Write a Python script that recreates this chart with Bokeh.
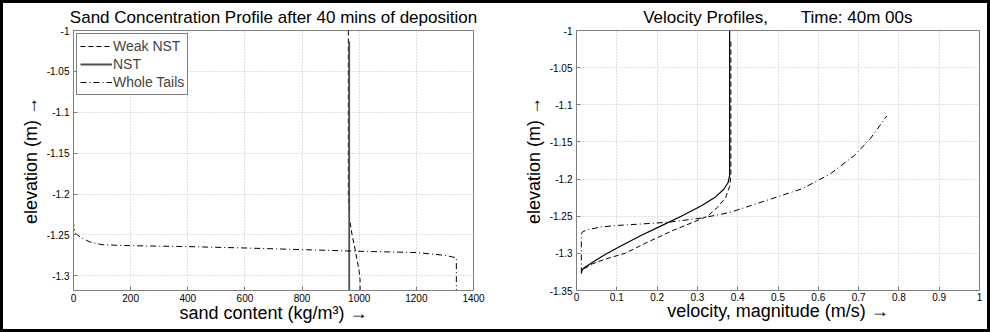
from bokeh.plotting import figure
from bokeh.layouts import row
from bokeh.models import FixedTicker, CustomJSTickFormatter, Range1d, Legend, LegendItem
from bokeh.embed import file_html
from bokeh.resources import INLINE

# ---------------- data: sand concentration profile ----------------
sand_weak_x = [962, 962, 966, 975, 987, 1000, 1003, 1003]
sand_weak_y = [-1.0, -1.2, -1.23, -1.25, -1.27, -1.295, -1.305, -1.318]
sand_nst_x = [965, 965]
sand_nst_y = [-1.013, -1.318]
sand_whole_x = [0, 0, 5, 30, 60, 100, 200, 400, 600, 800, 1000, 1200, 1300, 1340, 1340]
sand_whole_y = [-1.105, -1.235, -1.248, -1.254, -1.259, -1.262, -1.2632, -1.2643,
                -1.266, -1.268, -1.27, -1.2716, -1.275, -1.278, -1.318]
sand_xticks = [0, 200, 400, 600, 800, 1000, 1200, 1400]
sand_yticks = [-1.3, -1.25, -1.2, -1.15, -1.1, -1.05, -1.0]

# ---------------- data: velocity profiles ----------------
vel_nst_x = [0.38, 0.38, 0.376, 0.365, 0.345, 0.31, 0.26, 0.21, 0.16, 0.11, 0.07, 0.04, 0.02, 0.012]
vel_nst_y = [-1.0, -1.195, -1.205, -1.214, -1.224, -1.236, -1.25, -1.263, -1.276, -1.29,
             -1.302, -1.312, -1.319, -1.323]
vel_weak_x = [0.383, 0.383, 0.38, 0.37, 0.35, 0.325, 0.29, 0.24, 0.18, 0.12, 0.07, 0.04, 0.015, 0.012]
vel_weak_y = [-1.015, -1.195, -1.21, -1.225, -1.238, -1.25, -1.258, -1.269, -1.284, -1.3,
              -1.308, -1.314, -1.322, -1.327]
vel_whole_x = [0.012, 0.012, 0.016, 0.03, 0.06, 0.1, 0.16, 0.23, 0.31, 0.38, 0.47, 0.56,
               0.63, 0.69, 0.73, 0.77]
vel_whole_y = [-1.327, -1.2735, -1.2705, -1.268, -1.2645, -1.2625, -1.2605, -1.258, -1.2525,
               -1.245, -1.229, -1.213, -1.193, -1.168, -1.145, -1.115]
vel_xticks = [0, 0.1, 0.2, 0.3, 0.4, 0.5, 0.6, 0.7, 0.8, 0.9, 1.0]
vel_yticks = [-1.35, -1.3, -1.25, -1.2, -1.15, -1.1, -1.05, -1.0]

sand_title = "Sand Concentration Profile after 40 mins of deposition"
vel_title = "Velocity Profiles,\u00a0\u00a0\u00a0\u00a0\u00a0\u00a0 Time: 40m 00s"

FONT = "Liberation Sans"
AXC = "#808080"
FMT = "return String(+tick.toFixed(3));"


def make_fig(width, height, xr, yr, xt, yt, title, xlabel, bl, br, bt, bb,
             xstand, ystand, lstand):
    p = figure(width=width, height=height,
               x_range=Range1d(start=xr[0], end=xr[1]), y_range=Range1d(start=yr[0], end=yr[1]),
               output_backend="svg", toolbar_location=None,
               min_border_left=bl, min_border_right=br, min_border_top=bt, min_border_bottom=bb,
               title=title)
    p.background_fill_color = "white"
    p.border_fill_color = "white"
    p.outline_line_color = AXC
    p.title.text_font = FONT
    p.title.text_font_size = "17px"
    p.title.text_font_style = "normal"
    p.title.text_color = "black"
    p.title.align = "center"
    p.title.vertical_align = "top"
    p.title.standoff = 4
    p.xaxis.ticker = FixedTicker(ticks=xt)
    p.yaxis.ticker = FixedTicker(ticks=yt)
    for ax in (p.xaxis[0], p.yaxis[0]):
        ax.formatter = CustomJSTickFormatter(code=FMT)
        ax.axis_line_color = AXC
        ax.major_tick_line_color = AXC
        ax.major_tick_in = 4
        ax.major_tick_out = 0
        ax.minor_tick_in = 0
        ax.minor_tick_out = 0
        ax.major_label_text_font = FONT
        ax.major_label_text_font_size = "10px"
        ax.major_label_text_color = "black"
        ax.major_label_standoff = 4
        ax.axis_label_text_font = FONT
        ax.axis_label_text_font_size = "18px"
        ax.axis_label_text_font_style = "normal"
        ax.axis_label_text_color = "black"
    p.xaxis.axis_label = xlabel
    p.yaxis.axis_label = "elevation (m) \u2192"
    p.xaxis.axis_label_standoff = xstand
    p.xaxis.major_label_standoff = lstand
    p.yaxis.axis_label_standoff = ystand
    p.grid.grid_line_color = "#c0c0c0"
    p.grid.grid_line_dash = "1 2"
    p.grid.grid_line_width = 1
    return p


p1 = make_fig(487, 326, (0, 1400), (-1.318, -1.0), sand_xticks, sand_yticks, sand_title,
              "sand content (kg/m\u00b3) \u2192", 70, 17, 26, 39, -2, 3, 3)
r_w = p1.line(sand_weak_x, sand_weak_y, line_color="black", line_width=1, line_dash="5 3")
r_n = p1.line(sand_nst_x, sand_nst_y, line_color="#505050", line_width=1.8)
r_t = p1.line(sand_whole_x, sand_whole_y, line_color="black", line_width=1, line_dash="6 3 1 3")

legend = Legend(items=[LegendItem(label="Weak NST", renderers=[r_w]),
                       LegendItem(label="NST", renderers=[r_n]),
                       LegendItem(label="Whole Tails", renderers=[r_t])],
                location="top_left")
legend.border_line_color = "black"
legend.border_line_width = 1
legend.background_fill_color = "white"
legend.background_fill_alpha = 1
legend.label_text_font = FONT
legend.label_text_font_size = "14px"
legend.glyph_width = 32
legend.glyph_height = 18
legend.label_height = 18
legend.label_standoff = 1
legend.spacing = 0
legend.padding = 3
legend.margin = 3
p1.add_layout(legend)

p2 = make_fig(497, 326, (0, 1.0), (-1.35, -1.0), vel_xticks, vel_yticks, vel_title,
              "velocity, magnitude (m/s) \u2192", 86, 8, 27, 35, -3, 3, 2)
p2.line(vel_weak_x, vel_weak_y, line_color="black", line_width=1, line_dash="5 3")
p2.line(vel_nst_x, vel_nst_y, line_color="black", line_width=1.2)
p2.line(vel_whole_x, vel_whole_y, line_color="black", line_width=1, line_dash="6 3 1 3")

layout = row(p1, p2, styles={"border": "3px solid black", "box-sizing": "content-box"})

open("out.html", "w").write(file_html(layout, INLINE))
